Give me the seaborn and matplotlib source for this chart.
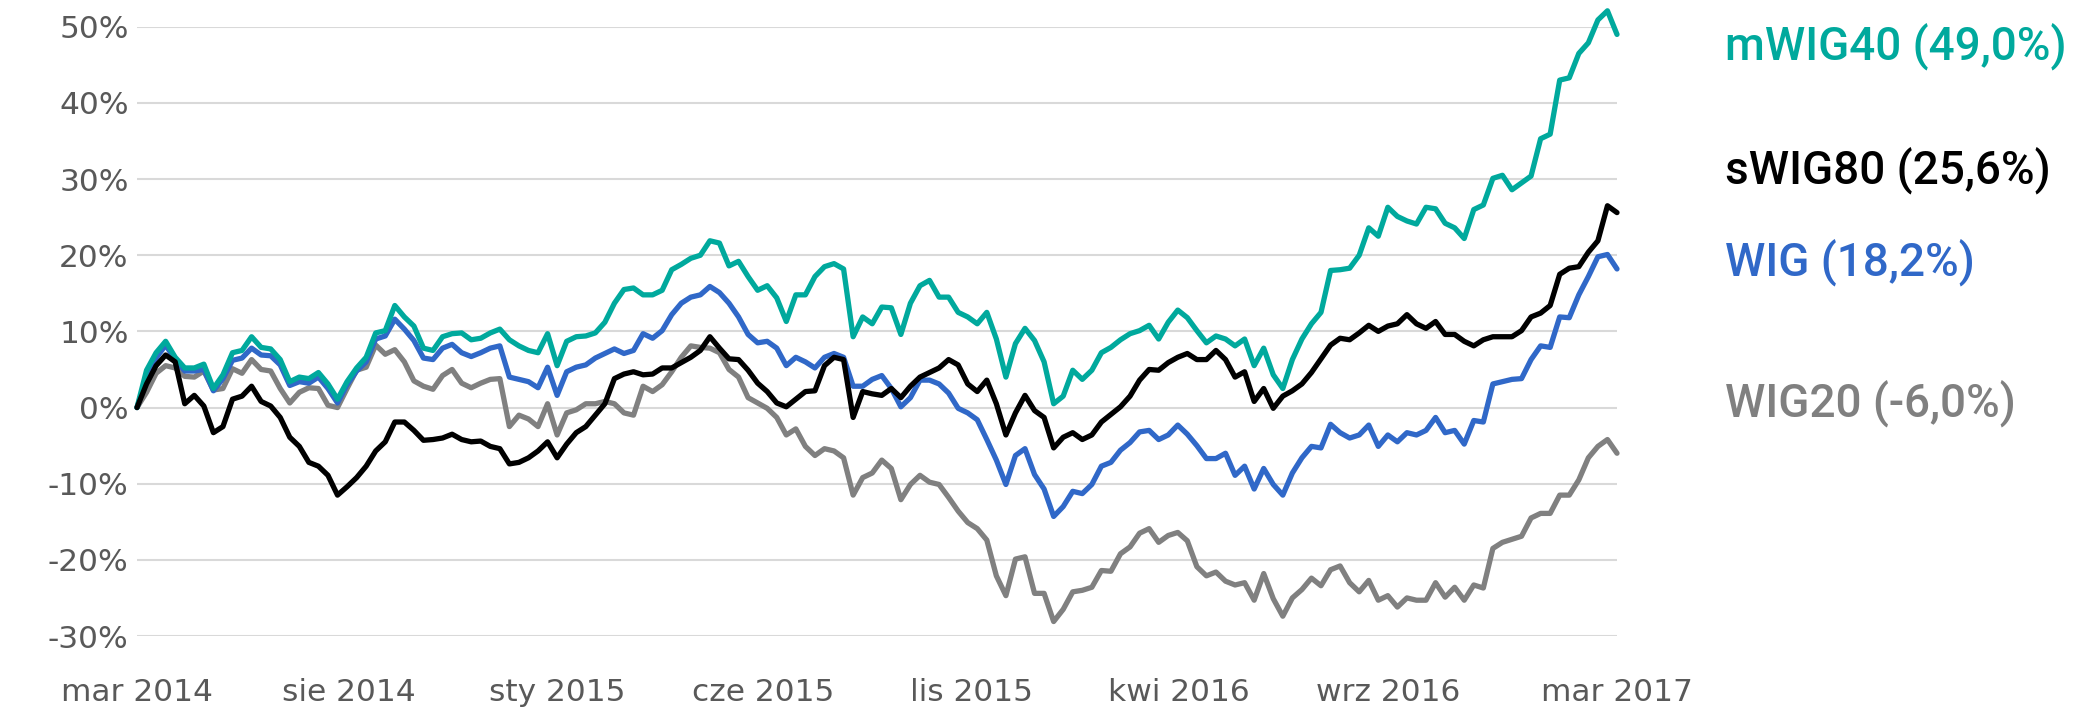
import matplotlib
matplotlib.use("Agg")
import pandas as pd
import seaborn as sns
from matplotlib import pyplot as plt
from matplotlib.ticker import FuncFormatter

# weekly readings, % change since the start
start = "2014-02-27"

mwig40 = [0.0, 4.9, 7.2, 8.7, 6.6, 5.2, 5.2, 5.7, 2.5, 4.3,
          7.2, 7.5, 9.3, 7.9, 7.7, 6.3, 3.4, 4.0, 3.8, 4.6,
          3.1, 1.1, 3.4, 5.2, 6.6, 9.8, 10.1, 13.4, 11.9, 10.7,
          7.8, 7.5, 9.3, 9.7, 9.8, 8.9, 9.1, 9.8, 10.3, 8.9,
          8.1, 7.5, 7.2, 9.7, 5.5, 8.7, 9.3, 9.4, 9.8, 11.2,
          13.7, 15.5, 15.7, 14.8, 14.8, 15.4, 18.1, 18.8, 19.6, 20.0,
          21.9, 21.6, 18.6, 19.2, 17.2, 15.4, 16.0, 14.4, 11.3, 14.8,
          14.8, 17.2, 18.5, 18.9, 18.2, 9.3, 11.9, 11.0, 13.2, 13.1,
          9.6, 13.7, 16.0, 16.7, 14.5, 14.5, 12.5, 11.9, 11.0, 12.5,
          9.0, 4.0, 8.4, 10.4, 8.8, 6.0, 0.5, 1.5, 4.9, 3.7,
          4.9, 7.2, 7.9, 8.9, 9.7, 10.1, 10.8, 9.0, 11.2, 12.8,
          11.8, 10.1, 8.5, 9.4, 9.0, 8.1, 9.0, 5.5, 7.8, 4.3,
          2.5, 6.3, 9.0, 11.0, 12.5, 18.0, 18.1, 18.3, 20.0, 23.6,
          22.5, 26.3, 25.1, 24.5, 24.1, 26.3, 26.1, 24.2, 23.6, 22.2,
          26.0, 26.6, 30.1, 30.5, 28.6, 29.5, 30.4, 35.3, 35.9, 43.0,
          43.3, 46.5, 47.9, 50.9, 52.1, 49.0]

swig80 = [0.0, 3.1, 5.5, 6.9, 6.0, 0.5, 1.6, 0.2, -3.3, -2.5,
          1.1, 1.5, 2.8, 0.8, 0.2, -1.3, -3.9, -5.1, -7.2, -7.7,
          -8.9, -11.5, -10.4, -9.2, -7.7, -5.7, -4.5, -1.9, -1.9, -3.0,
          -4.3, -4.2, -4.0, -3.5, -4.2, -4.5, -4.4, -5.1, -5.4, -7.4,
          -7.2, -6.6, -5.7, -4.5, -6.6, -4.8, -3.3, -2.5, -1.0, 0.5,
          3.8, 4.4, 4.7, 4.3, 4.4, 5.2, 5.2, 5.9, 6.6, 7.5,
          9.3, 7.8, 6.4, 6.3, 4.9, 3.2, 2.1, 0.6, 0.1, 1.1,
          2.1, 2.2, 5.5, 6.6, 6.3, -1.3, 2.1, 1.8, 1.6, 2.5,
          1.3, 2.8, 4.0, 4.6, 5.2, 6.3, 5.6, 3.1, 2.1, 3.6,
          0.5, -3.6, -0.7, 1.6, -0.4, -1.3, -5.3, -3.9, -3.3, -4.2,
          -3.6, -1.9, -0.9, 0.1, 1.5, 3.6, 5.0, 4.9, 5.9, 6.6,
          7.1, 6.3, 6.3, 7.5, 6.3, 4.0, 4.7, 0.8, 2.5, -0.1,
          1.5, 2.2, 3.1, 4.6, 6.4, 8.2, 9.1, 8.9, 9.8, 10.8,
          10.0, 10.7, 11.0, 12.2, 11.0, 10.4, 11.3, 9.6, 9.6, 8.7,
          8.1, 8.9, 9.3, 9.3, 9.3, 10.1, 11.9, 12.4, 13.4, 17.5,
          18.3, 18.5, 20.4, 21.9, 26.5, 25.6]

wig = [0.0, 3.8, 6.5, 8.2, 6.3, 4.8, 4.8, 5.0, 2.2, 3.8,
       6.2, 6.5, 7.8, 6.9, 6.8, 5.6, 2.9, 3.4, 3.2, 4.0,
       2.5, 0.6, 3.0, 4.8, 6.0, 9.0, 9.4, 11.6, 10.3, 8.8,
       6.5, 6.3, 7.8, 8.3, 7.2, 6.7, 7.2, 7.8, 8.1, 4.0,
       3.7, 3.4, 2.6, 5.3, 1.6, 4.7, 5.3, 5.6, 6.5, 7.1,
       7.7, 7.1, 7.5, 9.7, 9.1, 10.1, 12.2, 13.7, 14.5, 14.8,
       15.9, 15.1, 13.7, 11.9, 9.6, 8.5, 8.7, 7.8, 5.5, 6.6,
       6.0, 5.2, 6.6, 7.1, 6.6, 2.8, 2.8, 3.7, 4.2, 2.5,
       0.1, 1.3, 3.6, 3.6, 3.1, 1.9, -0.1, -0.7, -1.6, -4.2,
       -6.9, -10.1, -6.3, -5.4, -8.8, -10.7, -14.3, -13.0, -11.0, -11.3,
       -10.1, -7.7, -7.2, -5.6, -4.6, -3.2, -3.0, -4.2, -3.6, -2.3,
       -3.5, -5.0, -6.7, -6.7, -6.0, -8.9, -7.7, -10.7, -8.0, -10.1,
       -11.5, -8.6, -6.6, -5.1, -5.3, -2.2, -3.3, -4.0, -3.6, -2.3,
       -5.1, -3.6, -4.5, -3.3, -3.6, -3.0, -1.3, -3.3, -3.0, -4.8,
       -1.7, -1.9, 3.1, 3.4, 3.7, 3.8, 6.3, 8.1, 7.9, 11.9,
       11.8, 14.8, 17.2, 19.8, 20.1, 18.2]

wig20 = [0.0, 2.0, 4.5, 5.5, 5.2, 4.1, 4.0, 4.8, 2.3, 2.5,
         5.1, 4.5, 6.3, 5.0, 4.8, 2.5, 0.6, 2.0, 2.6, 2.5,
         0.3, 0.0, 2.5, 4.9, 5.3, 8.2, 7.0, 7.6, 6.0, 3.5,
         2.8, 2.4, 4.2, 5.0, 3.2, 2.6, 3.2, 3.7, 3.8, -2.5,
         -1.0, -1.5, -2.5, 0.5, -3.6, -0.7, -0.3, 0.5, 0.5, 0.8,
         0.5, -0.7, -1.0, 2.8, 2.1, 3.0, 4.7, 6.6, 8.1, 7.9,
         7.8, 7.2, 5.0, 4.0, 1.3, 0.6, -0.1, -1.3, -3.6, -2.8,
         -5.1, -6.3, -5.4, -5.7, -6.6, -11.5, -9.2, -8.6, -6.9, -8.0,
         -12.1, -10.1, -8.9, -9.8, -10.1, -11.8, -13.6, -15.1, -15.9, -17.4,
         -22.1, -24.7, -19.9, -19.6, -24.4, -24.4, -28.1, -26.5, -24.2, -24.0,
         -23.6, -21.4, -21.5, -19.2, -18.3, -16.5, -15.9, -17.7, -16.8, -16.4,
         -17.5, -20.9, -22.1, -21.6, -22.8, -23.3, -23.0, -25.3, -21.8, -25.1,
         -27.4, -25.0, -23.9, -22.4, -23.4, -21.3, -20.8, -23.0, -24.2, -22.7,
         -25.3, -24.7, -26.2, -25.0, -25.3, -25.3, -23.0, -24.9, -23.6, -25.3,
         -23.3, -23.7, -18.5, -17.7, -17.3, -16.9, -14.5, -13.9, -13.9, -11.5,
         -11.5, -9.5, -6.6, -5.1, -4.2, -6.0]

# drawing order: last one ends up on top
names = ["WIG20", "WIG", "mWIG40", "sWIG80"]
end_labels = ["WIG20 (-6,0%)", "WIG (18,2%)", "mWIG40 (49,0%)", "sWIG80 (25,6%)"]
colors = ["#808080", "#3068c8", "#00a99d", "#000000"]
label_y = [403, 262, 46, 170]  # px from top

tick_dates = ["2014-02-27", "2014-08-01", "2015-01-01", "2015-06-01",
              "2015-11-01", "2016-04-01", "2016-09-01", "2017-02-16"]
tick_labels = ["mar 2014", "sie 2014", "sty 2015", "cze 2015",
               "lis 2015", "kwi 2016", "wrz 2016", "mar 2017"]

dates = pd.date_range(start, periods=len(mwig40), freq="7D")
wide = pd.DataFrame({"data": dates, "WIG20": wig20, "WIG": wig,
                     "mWIG40": mwig40, "sWIG80": swig80})
df = wide.melt(id_vars="data", var_name="indeks", value_name="zmiana")

sns.set_style("white")
plt.rcParams["font.family"] = ["DejaVu Sans"]

W, H = 2086, 710
fig = plt.figure(figsize=(W / 100, H / 100), dpi=100)
ax = fig.add_axes([137 / W, 1 - 636 / H, (1617 - 137) / W, (636 - 26.8) / H])

sns.lineplot(data=df, x="data", y="zmiana", hue="indeks", hue_order=names,
             palette=colors, linewidth=3.8, legend=False, ax=ax)
for line in ax.lines:
    line.set_clip_on(False)
    line.set_solid_joinstyle("round")

ax.set_xlim(dates[0], dates[-1])
ax.set_ylim(-30, 50)
ax.set_yticks(range(-30, 51, 10))
ax.yaxis.set_major_formatter(FuncFormatter(lambda v, p: f"{int(round(v))}%"))
ax.set_xticks(pd.to_datetime(tick_dates))
ax.set_xticklabels(tick_labels)
ax.set_xlabel("")
ax.set_ylabel("")

ax.grid(axis="y", color="#d9d9d9", linewidth=1.5)
ax.grid(axis="x", visible=False)
ax.set_axisbelow(True)
for s in ax.spines.values():
    s.set_visible(False)
ax.tick_params(axis="both", length=0, labelsize=22.5, colors="#595959")
ax.tick_params(axis="y", pad=6)
ax.tick_params(axis="x", pad=30)

for lab, col, y in zip(end_labels, colors, label_y):
    fig.text(1725 / W, 1 - y / H, lab, color=col, fontsize=33,
             va="center", ha="left", family=["Roboto", "DejaVu Sans"],
             fontweight="medium")

plt.savefig("out.png", dpi=100)
